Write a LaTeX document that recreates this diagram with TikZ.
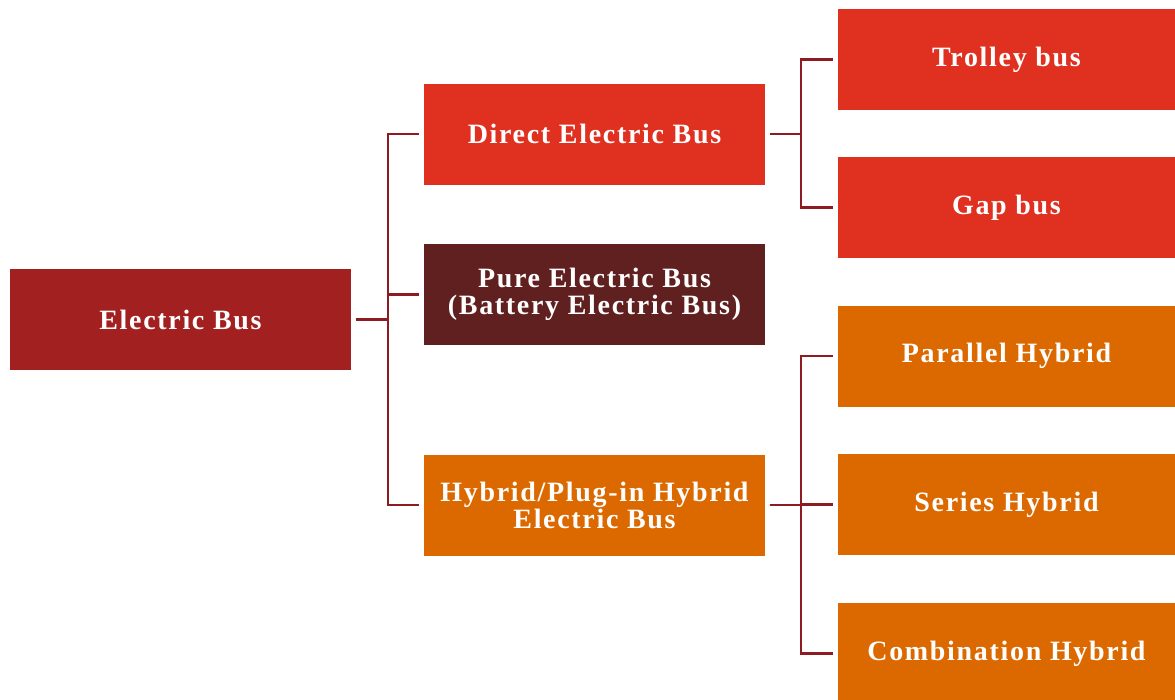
\documentclass[tikz,border=0pt]{standalone}
\usepackage{fontspec}
\setmainfont{Liberation Serif}
\usetikzlibrary{positioning}

\definecolor{rootred}{HTML}{A32020}
\definecolor{brightred}{HTML}{E03020}
\definecolor{darkbrown}{HTML}{602020}
\definecolor{busorange}{HTML}{DC6900}
\definecolor{linkred}{HTML}{8E1B22}

\tikzset{
    busbox/.style={rectangle, inner sep=0pt, minimum width=341pt, minimum height=101pt,
        text=white, align=center, font=\addfontfeatures{LetterSpace=6}\fontsize{28}{27}\selectfont\bfseries},
    leafbox/.style={busbox, minimum width=337pt},
    link/.style={linkred, line width=2.2pt, shorten <=4.5pt, shorten >=4.5pt}
}

\begin{document}
\begin{tikzpicture}[x=1pt, y=-1pt]
    \useasboundingbox (0,0) rectangle (1175,699);
    \clip (0,0) rectangle (1175,699);

    % Main boxes
    \node[busbox, fill=rootred] (root) at (180.5,319.5) {Electric Bus};
    \node[busbox, fill=brightred] (direct) at (594.5,134) {Direct Electric Bus};
    \node[busbox, fill=darkbrown] (pure) at (594.5,294.5) {Pure Electric Bus\\(Battery Electric Bus)};
    \node[busbox, fill=busorange] (hybrid) at (594.5,505) {Hybrid/Plug-in Hybrid\\Electric Bus};

    % Leaf boxes
    \node[leafbox, fill=brightred] (trolley) at (1006.5,59.5) {Trolley bus};
    \node[leafbox, fill=brightred] (gap) at (1006.5,207.5) {Gap bus};
    \node[leafbox, fill=busorange] (parallel) at (1006.5,356) {Parallel Hybrid};
    \node[leafbox, fill=busorange] (series) at (1006.5,504.5) {Series Hybrid};
    \node[leafbox, fill=busorange] (combination) at (1006.5,653.5) {Combination Hybrid};

    % Connectors
    \foreach \child in {direct,pure,hybrid}
        \draw[link] (root.east) -- ++(37,0) |- (\child.west);
    \foreach \child in {trolley,gap}
        \draw[link] (direct.east) -- ++(36,0) |- (\child.west);
    \foreach \child in {parallel,series,combination}
        \draw[link] (hybrid.east) -- ++(36,0) |- (\child.west);

\end{tikzpicture}
\end{document}
